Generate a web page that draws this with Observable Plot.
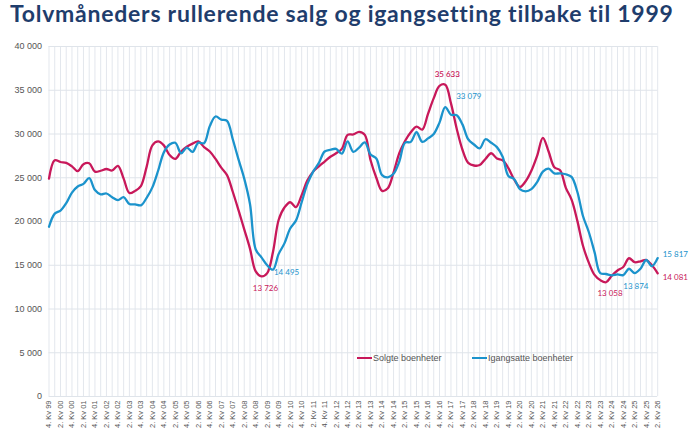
<!DOCTYPE html>
<html><head><meta charset="utf-8">
<script src="https://cdn.jsdelivr.net/npm/d3@7"></script>
<script src="https://cdn.jsdelivr.net/npm/@observablehq/plot@0.6"></script>
<style>
body{margin:0;background:#fff;}
#wrap{position:relative;width:690px;height:442px;overflow:hidden;background:#fff;}
#title{position:absolute;left:10px;top:1px;font-family:Lato,sans-serif;font-weight:bold;font-size:23px;letter-spacing:0.75px;color:#1f3d6c;white-space:nowrap;line-height:24px}
#chart{position:absolute;left:0;top:36px;}
.legend{position:absolute;top:353px;font-family:"Liberation Sans",Arial,sans-serif;font-size:9px;line-height:10px;color:#555;display:flex;align-items:center;white-space:nowrap}
.sw{display:inline-block;width:15px;height:2px;margin-right:1px}
</style></head><body>
<div id="wrap">
<div id="title">Tolvmåneders rullerende salg og igangsetting tilbake til 1999</div>
<div id="chart"></div>
<div class="legend" style="left:357px"><span class="sw" style="background:#c8185a"></span>Solgte boenheter</div>
<div class="legend" style="left:472px"><span class="sw" style="background:#1b93cc"></span>Igangsatte boenheter</div>
</div>
<script>
const quarters = [
"4. Kv 99",
"1. Kv 00","2. Kv 00","3. Kv 00","4. Kv 00",
"1. Kv 01","2. Kv 01","3. Kv 01","4. Kv 01",
"1. Kv 02","2. Kv 02","3. Kv 02","4. Kv 02",
"1. Kv 03","2. Kv 03","3. Kv 03","4. Kv 03",
"1. Kv 04","2. Kv 04","3. Kv 04","4. Kv 04",
"1. Kv 05","2. Kv 05","3. Kv 05","4. Kv 05",
"1. Kv 06","2. Kv 06","3. Kv 06","4. Kv 06",
"1. Kv 07","2. Kv 07","3. Kv 07","4. Kv 07",
"1. Kv 08","2. Kv 08","3. Kv 08","4. Kv 08",
"1. Kv 09","2. Kv 09","3. Kv 09","4. Kv 09",
"1. Kv 10","2. Kv 10","3. Kv 10","4. Kv 10",
"1. Kv 11","2. Kv 11","3. Kv 11","4. Kv 11",
"1. Kv 12","2. Kv 12","3. Kv 12","4. Kv 12",
"1. Kv 13","2. Kv 13","3. Kv 13","4. Kv 13",
"1. Kv 14","2. Kv 14","3. Kv 14","4. Kv 14",
"1. Kv 15","2. Kv 15","3. Kv 15","4. Kv 15",
"1. Kv 16","2. Kv 16","3. Kv 16","4. Kv 16",
"1. Kv 17","2. Kv 17","3. Kv 17","4. Kv 17",
"1. Kv 18","2. Kv 18","3. Kv 18","4. Kv 18",
"1. Kv 19","2. Kv 19","3. Kv 19","4. Kv 19",
"1. Kv 20","2. Kv 20","3. Kv 20","4. Kv 20",
"1. Kv 21","2. Kv 21","3. Kv 21","4. Kv 21",
"1. Kv 22","2. Kv 22","3. Kv 22","4. Kv 22",
"1. Kv 23","2. Kv 23","3. Kv 23","4. Kv 23",
"1. Kv 24","2. Kv 24","3. Kv 24","4. Kv 24",
"1. Kv 25","2. Kv 25","3. Kv 25","4. Kv 25",
"1. Kv 26","2. Kv 26"
];

const tickLabels = [
"4. Kv 99","2. Kv 00","4. Kv 00","2. Kv 01","4. Kv 01","2. Kv 02","4. Kv 02","2. Kv 03","4. Kv 03",
"2. Kv 04","4. Kv 04","2. Kv 05","4. Kv 05","2. Kv 06","4. Kv 06","2. Kv 07","4. Kv 07","2. Kv 08",
"4. Kv 08","2. Kv 09","4. Kv 09","2. Kv 10","4. Kv 10","2. Kv 11","4. Kv 11","2. Kv 12","4. Kv 12",
"2. Kv 13","4. Kv 13","2. Kv 14","4. Kv 14","2. Kv 15","4. Kv 15","2. Kv 16","4. Kv 16","2. Kv 17",
"4. Kv 17","2. Kv 18","4. Kv 18","2. Kv 19","4. Kv 19","2. Kv 20","4. Kv 20","2. Kv 21","4. Kv 21",
"2. Kv 22","4. Kv 22","2. Kv 23","4. Kv 23","2. Kv 24","4. Kv 24","2. Kv 25","4. Kv 25","2. Kv 26"
];

const yTicks = [0, 5000, 10000, 15000, 20000, 25000, 30000, 35000, 40000];

// Solgte boenheter (12-month rolling)
const solgte = [
24900,27000,26800,26700,26300,25750,26550,26650,25700,25800,
26000,25830,26350,24900,23250,23500,24050,26250,28700,29150,
28700,27600,27150,28000,28550,28900,29150,28500,28000,27150,
26150,25300,23400,21300,19100,16900,14300,13726,14100,16500,
20200,21600,22200,21650,23000,24700,25700,26300,26850,27400,
27800,28300,29900,29950,30250,29900,27000,25000,23500,23800,
25600,27800,29200,30200,30850,30500,32300,34100,35500,35633,
33500,30600,28200,26700,26400,26450,27150,27800,27200,27000,
26100,24800,23950,24600,25800,27500,29550,28000,26200,25850,
23850,22500,20100,17200,15300,13900,13300,13058,13800,14400,
14800,15800,15350,15450,15600,15000,14081
];

// Igangsatte boenheter (12-month rolling)
const igangsatte = [
19400,20900,21250,22100,23300,24000,24300,24950,23600,23100,
23200,22780,22450,22780,22000,21950,21850,22700,23900,25800,
27900,28800,29000,27800,28450,27950,29000,28950,30900,32000,
31650,31500,29400,27100,24900,22000,16800,15900,15000,14495,
16300,17500,19200,20100,22200,24300,25700,26700,28000,28200,
28300,27750,29150,27950,28450,29050,27650,27200,25300,25050,
25450,26850,29000,29100,30200,29100,29500,30000,31300,33079,
32200,32150,31100,29400,28800,28350,29400,29000,28500,27400,
25200,24850,23700,23450,23700,24500,25700,26050,25500,25500,
25400,25100,23400,20600,18800,16500,14100,14000,13850,13950,
13874,14600,14100,14600,15600,14900,15817
];

const rows = quarters.map((q, i) => ({q, solgte: solgte[i], igang: igangsatte[i]}));

const red = "#c8185a";
const blue = "#1b93cc";
const fmt = v => d3.format(",")(v).replace(/,/g, " ");
const noteFont = {fontFamily: "Lato, sans-serif", fontSize: 8};

const chart = Plot.plot({
  width: 690, height: 406,
  marginTop: 10, marginBottom: 46, marginLeft: 48.5, marginRight: 32.8,
  style: {fontFamily: "Liberation Sans, Arial, sans-serif", fontSize: "9px", color: "#555", background: "transparent", overflow: "visible"},
  x: {type: "point", domain: quarters, padding: 0},
  y: {domain: [0, 40000]},
  marks: [
    Plot.ruleX(quarters, {stroke: "#e3e7ed", strokeWidth: 1}),
    Plot.ruleY(yTicks, {stroke: "#dfe4ea", strokeWidth: 1}),
    Plot.axisY({ticks: yTicks, tickSize: 0, tickPadding: 7, tickFormat: fmt, label: null, fontSize: 9}),
    Plot.axisX({ticks: tickLabels, tickSize: 0, tickRotate: -90, tickPadding: 4, label: null, fontSize: 7.5}),
    Plot.line(rows, {x: "q", y: "solgte", stroke: red, strokeWidth: 2.3, curve: "catmull-rom"}),
    Plot.line(rows, {x: "q", y: "igang", stroke: blue, strokeWidth: 2.3, curve: "catmull-rom"}),
    Plot.text(rows, {filter: d => d.q === "1. Kv 17", x: "q", y: "solgte", text: d => fmt(d.solgte), fill: red, dx: 2, dy: -10, fontWeight: 600, ...noteFont}),
    Plot.text(rows, {filter: d => d.q === "1. Kv 17", x: "q", y: "igang", text: d => fmt(d.igang), fill: blue, textAnchor: "start", dx: 11, dy: -11, ...noteFont}),
    Plot.text(rows, {filter: d => d.q === "1. Kv 09", x: "q", y: "solgte", text: d => fmt(d.solgte), fill: red, dx: 4, dy: 12, ...noteFont}),
    Plot.text(rows, {filter: d => d.q === "3. Kv 09", x: "q", y: "igang", text: d => fmt(d.igang), fill: blue, textAnchor: "start", dx: 1, dy: 3, ...noteFont}),
    Plot.text(rows, {filter: d => d.q === "1. Kv 24", x: "q", y: "solgte", text: d => fmt(d.solgte), fill: red, dx: 4, dy: 11, ...noteFont}),
    Plot.text(rows, {filter: d => d.q === "4. Kv 24", x: "q", y: "igang", text: d => fmt(d.igang), fill: blue, textAnchor: "start", dx: 0, dy: 11.5, ...noteFont}),
    Plot.text(rows, {filter: d => d.q === "2. Kv 26", x: "q", y: "igang", text: d => fmt(d.igang), fill: blue, textAnchor: "start", dx: 5, dy: -3.5, ...noteFont}),
    Plot.text(rows, {filter: d => d.q === "2. Kv 26", x: "q", y: "solgte", text: d => fmt(d.solgte), fill: red, textAnchor: "start", dx: 5, dy: 4.5, ...noteFont})
  ]
});
document.getElementById("chart").appendChild(chart);
</script>
</body></html>
